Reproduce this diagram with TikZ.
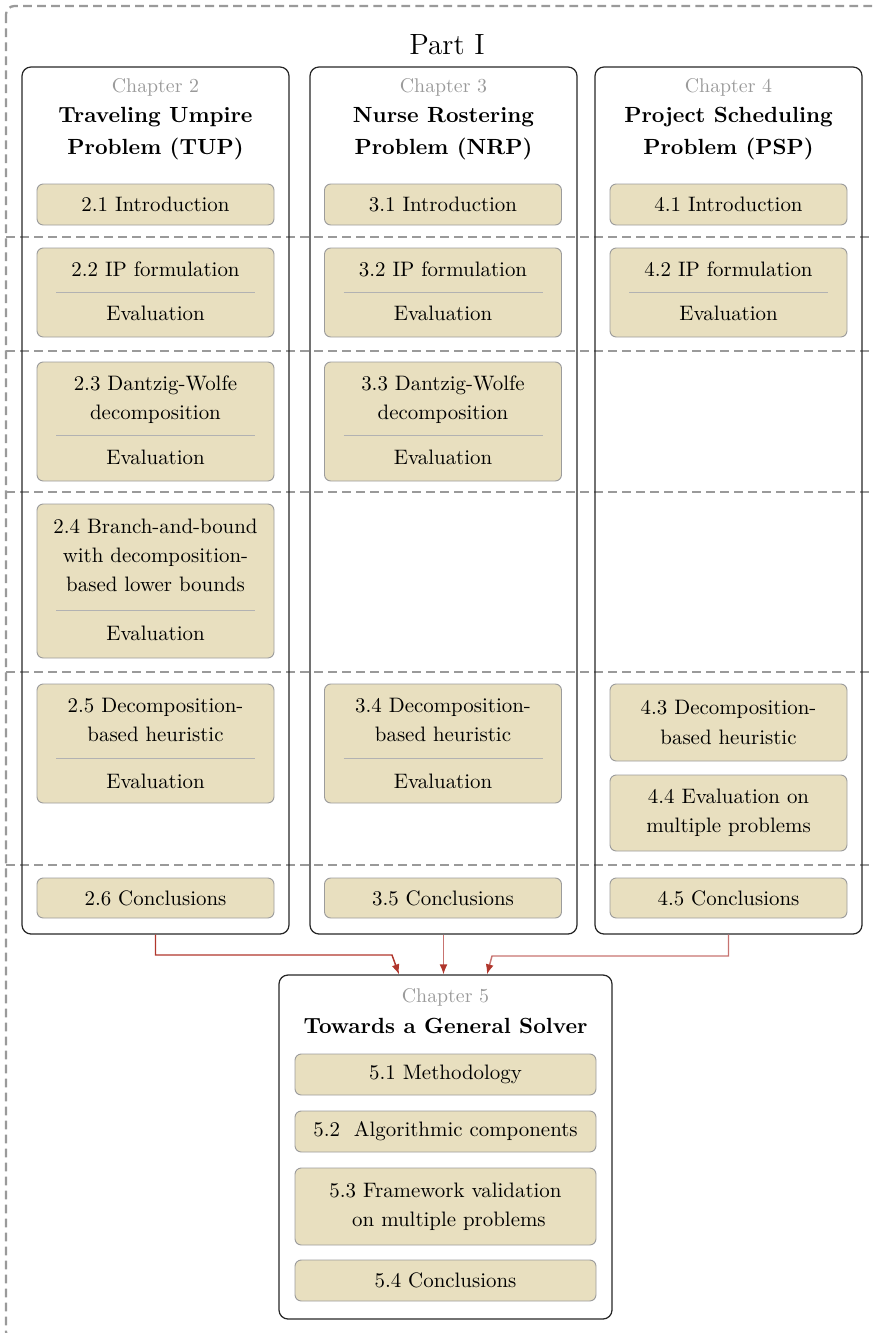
\documentclass[tikz,border=0pt]{standalone}
\usetikzlibrary{arrows.meta,calc}

% one drawing unit
\newcommand\pu{0.4785pt}

\definecolor{secfill}{HTML}{E8DFBF}
\definecolor{secline}{HTML}{9C9C9C}
\definecolor{dashgray}{HTML}{9A9A9A}
\definecolor{chapgray}{HTML}{9A9A9A}
\definecolor{arrred}{HTML}{B0362C}
\definecolor{arrpale}{HTML}{C77370}

\tikzset{
  frameline/.style={draw=dashgray, line width=1.1pt, dash pattern=on 4.2pt off 2.5pt},
  chapbox/.style={draw=black!85, line width=0.6pt, rounded corners=4.3pt,
    minimum width=267*\pu, minimum height=867*\pu, inner sep=0pt},
  secbox/.style={draw=secline, fill=secfill, line width=0.45pt, rounded corners=3pt,
    inner sep=0pt, align=center, minimum width=237*\pu, font=\fontsize{10}{14}\selectfont},
  sectext/.style={align=center, inner sep=0pt, font=\fontsize{10}{14}\selectfont},
  chaplabel/.style={text=chapgray, inner sep=0pt, font=\fontsize{9.5}{11}\selectfont},
  chaptitle/.style={align=center, inner sep=0pt, font=\fontsize{10.5}{15.3}\selectfont\bfseries},
  sepline/.style={draw=black!30, line width=0.45pt},
  arr/.style={line width=0.7pt, -{Latex[length=4.8pt,width=3.8pt,color=arrred]}},
}

% section box with an "Evaluation" part below a rule
% #1 name, #2 x centre, #3 y centre, #4 height, #5 title y, #6 rule y, #7 evaluation y, #8 title
\newcommand\evalbox[8]{%
  \node[secbox, minimum height=#4*\pu] (#1) at (#2,#3) {};
  \node[sectext] (#1-t) at (#2,#5) {#8};
  \draw[sepline] ($(#2,#6)+(-99.5,0)$) -- ($(#2,#6)+(99.5,0)$);
  \node[sectext] (#1-e) at (#2,#7) {Evaluation};
}

\begin{document}
\begin{tikzpicture}[x=\pu, y=-\pu]
\useasboundingbox (0,0) rectangle (873,1333);
\clip (0,0) rectangle (873,1333);

% part frame and the row separators
\draw[frameline, rounded corners=4pt] (6,6) rectangle (886,1340);
\foreach \yy in {237,351,492,672,865}
  \draw[frameline] (6,\yy) -- (886,\yy);

\node[font=\fontsize{14}{17}\selectfont, inner sep=0pt] (part) at (447,45) {Part I};

% chapter frames
\node[chapbox] (ch2) at (155.5,500.5) {};
\node[chapbox] (ch3) at (443.5,500.5) {};
\node[chapbox] (ch4) at (728.5,500.5) {};
\node[chapbox, minimum width=333*\pu, minimum height=344*\pu] (ch5) at (445.5,1147) {};

% chapter headings
\node[chaplabel] (ch2-n) at (155.5,87) {Chapter 2};
\node[chaptitle] (ch2-h) at (155.5,134) {Traveling Umpire\\Problem (TUP)};
\node[chaplabel] (ch3-n) at (443.5,87) {Chapter 3};
\node[chaptitle] (ch3-h) at (443.5,134) {Nurse Rostering\\Problem (NRP)};
\node[chaplabel] (ch4-n) at (728.5,87) {Chapter 4};
\node[chaptitle] (ch4-h) at (728.5,134) {Project Scheduling\\Problem (PSP)};
\node[chaplabel] (ch5-n) at (445.5,997) {Chapter 5};
\node[chaptitle] (ch5-h) at (445.5,1026) {Towards a General Solver};

% chapter 2
\node[secbox, minimum height=41*\pu] (s21) at (155.5,204.5) {2.1 Introduction};
\evalbox{s22}{155.5}{292.5}{89}{269}{292}{313}{2.2 IP formulation}
\evalbox{s23}{155.5}{421.5}{119}{399.5}{435}{457}{2.3 Dantzig-Wolfe\\decomposition}
\evalbox{s24}{155.5}{581}{154}{555.5}{610}{633}{2.4 Branch-and-bound\\with decomposition-\\based lower bounds}
\evalbox{s25}{155.5}{743.5}{119}{720}{758}{781}{2.5 Decomposition-\\based heuristic}
\node[secbox, minimum height=40*\pu] (s26) at (155.5,898) {2.6 Conclusions};

% chapter 3
\node[secbox, minimum height=41*\pu] (s31) at (443,204.5) {3.1 Introduction};
\evalbox{s32}{443}{292.5}{89}{269}{292}{313}{3.2 IP formulation}
\evalbox{s33}{443}{421.5}{119}{399.5}{435}{457}{3.3 Dantzig-Wolfe\\decomposition}
\evalbox{s34}{443}{743.5}{119}{720}{758}{781}{3.4 Decomposition-\\based heuristic}
\node[secbox, minimum height=40*\pu] (s35) at (443,898) {3.5 Conclusions};

% chapter 4
\node[secbox, minimum height=41*\pu] (s41) at (728.5,204.5) {4.1 Introduction};
\evalbox{s42}{728.5}{292.5}{89}{269}{292}{313}{4.2 IP formulation}
\node[secbox, minimum height=77*\pu] (s43) at (728.5,722.5) {4.3 Decomposition-\\based heuristic};
\node[secbox, minimum height=76*\pu] (s44) at (728.5,813) {4.4 Evaluation on\\multiple problems};
\node[secbox, minimum height=40*\pu] (s45) at (728.5,898) {4.5 Conclusions};

% chapter 5
\node[secbox, minimum width=301*\pu, minimum height=41*\pu] (s51) at (445.5,1074.5) {5.1 Methodology};
\node[secbox, minimum width=301*\pu, minimum height=41*\pu] (s52) at (445.5,1131.5) {5.2~~Algorithmic components};
\node[secbox, minimum width=301*\pu, minimum height=77*\pu] (s53) at (445.5,1206.5) {5.3 Framework validation\\~on multiple problems};
\node[secbox, minimum width=301*\pu, minimum height=41*\pu] (s54) at (445.5,1280.5) {5.4 Conclusions};

% links into chapter 5
\draw[arr, draw=arrred] (ch2.south) |- (392,955) -- ($(ch5.north)+(-46.5,0)$);
\draw[arr, draw=arrpale] (ch3.south) -- (ch3.south |- ch5.north);
\draw[arr, draw=arrpale] (ch4.south) |- (492,956) -- ($(ch5.north)+(41.5,0)$);
\end{tikzpicture}
\end{document}
